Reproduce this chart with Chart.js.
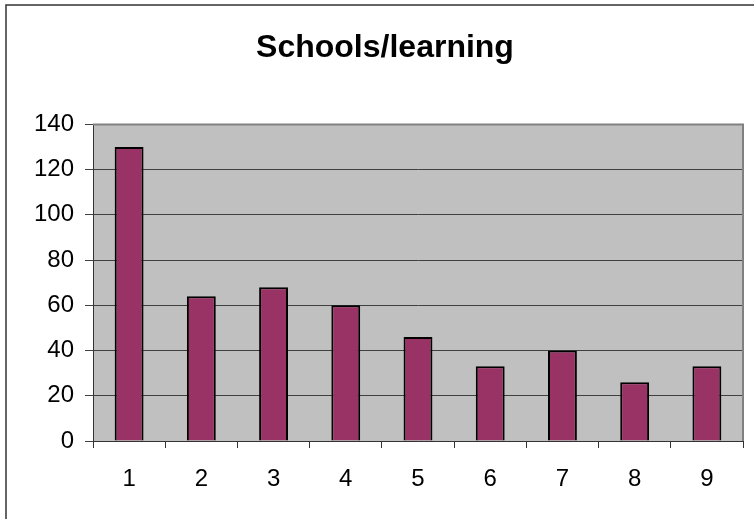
<!DOCTYPE html>
<html>
<head>
<meta charset="utf-8">
<script src="https://cdn.jsdelivr.net/npm/chart.js@4"></script>
<style>
  html, body { margin: 0; padding: 0; background: #fff; }
  #wrap { width: 754px; height: 519px; }
</style>
</head>
<body>
<div id="wrap"><canvas id="chart" width="754" height="519"></canvas></div>
<script>
// chart data
const categories = ['1', '2', '3', '4', '5', '6', '7', '8', '9'];
const values     = [130, 64, 68, 60, 46, 33, 40, 26, 33];
const yTicks     = [0, 20, 40, 60, 80, 100, 120, 140];

const FONT = "'Liberation Sans', Arial, sans-serif";

// grey plot area + frame around the whole chart
const framePlugin = {
  id: 'frame',
  beforeDraw(chart) {
    const { ctx, chartArea: a } = chart;
    ctx.save();
    ctx.fillStyle = '#c0c0c0';
    ctx.fillRect(a.left, a.top, a.right - a.left, a.bottom - a.top);
    ctx.restore();
  },
  afterDraw(chart) {
    const { ctx, chartArea: a } = chart;
    ctx.save();
    ctx.strokeStyle = '#808080';
    ctx.lineWidth = 2;
    ctx.beginPath();
    ctx.moveTo(a.left, a.top);
    ctx.lineTo(a.right, a.top);
    ctx.lineTo(a.right, a.bottom);
    ctx.stroke();
    ctx.strokeStyle = '#333';
    ctx.lineWidth = 1.5;
    ctx.strokeRect(6, 5, 800, 600);
    ctx.restore();
  }
};

new Chart(document.getElementById('chart').getContext('2d'), {
  type: 'bar',
  data: {
    labels: categories,
    datasets: [{
      data: values,
      backgroundColor: '#993366',
      borderColor: '#000',
      borderWidth: 2,
      barPercentage: 0.4,
      categoryPercentage: 1
    }]
  },
  options: {
    responsive: false,
    animation: false,
    layout: { padding: { left: 27, right: 11, top: 0, bottom: 0 } },
    plugins: {
      legend: { display: false },
      tooltip: { enabled: false },
      title: {
        display: true,
        text: 'Schools/learning',
        color: '#000',
        font: { family: FONT, size: 32, weight: 'bold' },
        padding: { top: 29, bottom: 57 }
      }
    },
    scales: {
      x: {
        grid: { offset: true, drawOnChartArea: false, drawTicks: true, tickLength: 7, color: '#333' },
        border: { color: '#333', width: 1 },
        ticks: { color: '#000', font: { family: FONT, size: 24 }, padding: 17 },
        afterFit(s) { s.height = 78; }
      },
      y: {
        min: 0, max: 140,
        afterBuildTicks(s) { s.ticks = yTicks.map(v => ({ value: v })); },
        grid: { color: '#404040', tickLength: 8 },
        border: { color: '#333', width: 1 },
        ticks: { color: '#000', font: { family: FONT, size: 24 }, padding: 11 },
        afterFit(s) { s.width = 66; }
      }
    }
  },
  plugins: [framePlugin]
});
</script>
</body>
</html>
